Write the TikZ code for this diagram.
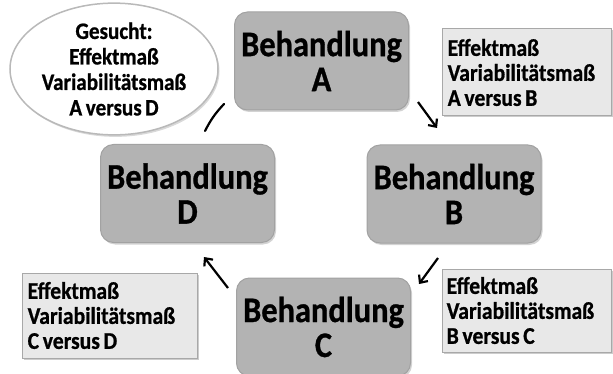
\documentclass[tikz,border=0pt]{standalone}
\usepackage{fontspec}
\setmainfont{Carlito}[FakeStretch=0.9, WordSpace=0.75, BoldFeatures={FakeBold=0.8}]
\usetikzlibrary{shapes.geometric,shadows,arrows.meta}
\definecolor{boxfill}{HTML}{B3B3B3}
\definecolor{boxline}{HTML}{A2A2A2}
\definecolor{notefill}{HTML}{E8E8E8}
\definecolor{noteline}{HTML}{A8A8A8}
\tikzset{
  treat/.style={rounded corners=13pt, fill=boxfill, draw=boxline, line width=1pt,
    minimum width=174pt, minimum height=98pt, align=center, inner sep=0pt,
    font=\fontsize{36}{35}\selectfont\bfseries,
    drop shadow={shadow xshift=1.5pt, shadow yshift=-2pt, opacity=.35}},
  note/.style={fill=notefill, draw=noteline, line width=1pt,
    drop shadow={shadow xshift=1.5pt, shadow yshift=-1.5pt, opacity=.4}},
  notetext/.style={align=left, anchor=west, inner sep=0pt,
    font=\fontsize{24}{25}\selectfont\bfseries},
  flow/.style={line width=2.2pt, -{Straight Barb[length=6pt,width=11pt,line width=2.2pt]}},
  link/.style={line width=2.2pt, line cap=round}
}
\begin{document}
\begin{tikzpicture}[x=1pt, y=-1pt]
\useasboundingbox (0,0) rectangle (613,374);

% treatment boxes
\node[treat] (A) at (321.5,61) {Behandlung\\A};
\node[treat] (B) at (454,194) {Behandlung\\B};
\node[treat] (C) at (323.5,327) {Behandlung\\C};
\node[treat] (D) at (187.5,193.5) {Behandlung\\D};

% comparison notes
\node[note, minimum width=169pt, minimum height=87pt] (nAB) at (526.5,72.5) {};
\node[notetext] at ([xshift=6pt]nAB.west) {Effektmaß\\Variabilitätsmaß\\A versus B};
\node[note, minimum width=169pt, minimum height=83pt] (nBC) at (526.5,310.5) {};
\node[notetext] at ([xshift=5pt]nBC.west) {Effektmaß\\Variabilitätsmaß\\B versus C};
\node[note, minimum width=175pt, minimum height=85pt] (nCD) at (109.5,315.5) {};
\node[notetext] at ([xshift=6pt]nCD.west) {Effektmaß\\Variabilitätsmaß\\C versus D};

% goal ellipse
\node[ellipse, fill=white, draw=gray!55, line width=1.5pt,
  minimum width=208pt, minimum height=118pt, inner sep=0pt, align=center,
  font=\fontsize{23.5}{25.5}\selectfont\bfseries,
  drop shadow={shadow xshift=1.5pt, shadow yshift=-2pt, opacity=.3}]
  (goal) at (114,69) {Gesucht:\\Effektmaß\\Variabilitätsmaß\\A versus D};

% connector end points
\coordinate (ab1) at (418,102); \coordinate (ab2) at (437,128);
\coordinate (bc1) at (438,258); \coordinate (bc2) at (419,284);
\coordinate (cd1) at (228,288); \coordinate (cd2) at (204,257);
\coordinate (da1) at (205,131); \coordinate (da2) at (224,104);

\draw[flow] (ab1) -- (ab2);
\draw[flow] (bc1) -- (bc2);
\draw[flow] (cd1) -- (cd2);
\draw[link] (da1) to[bend left=8] (da2);
\end{tikzpicture}
\end{document}
